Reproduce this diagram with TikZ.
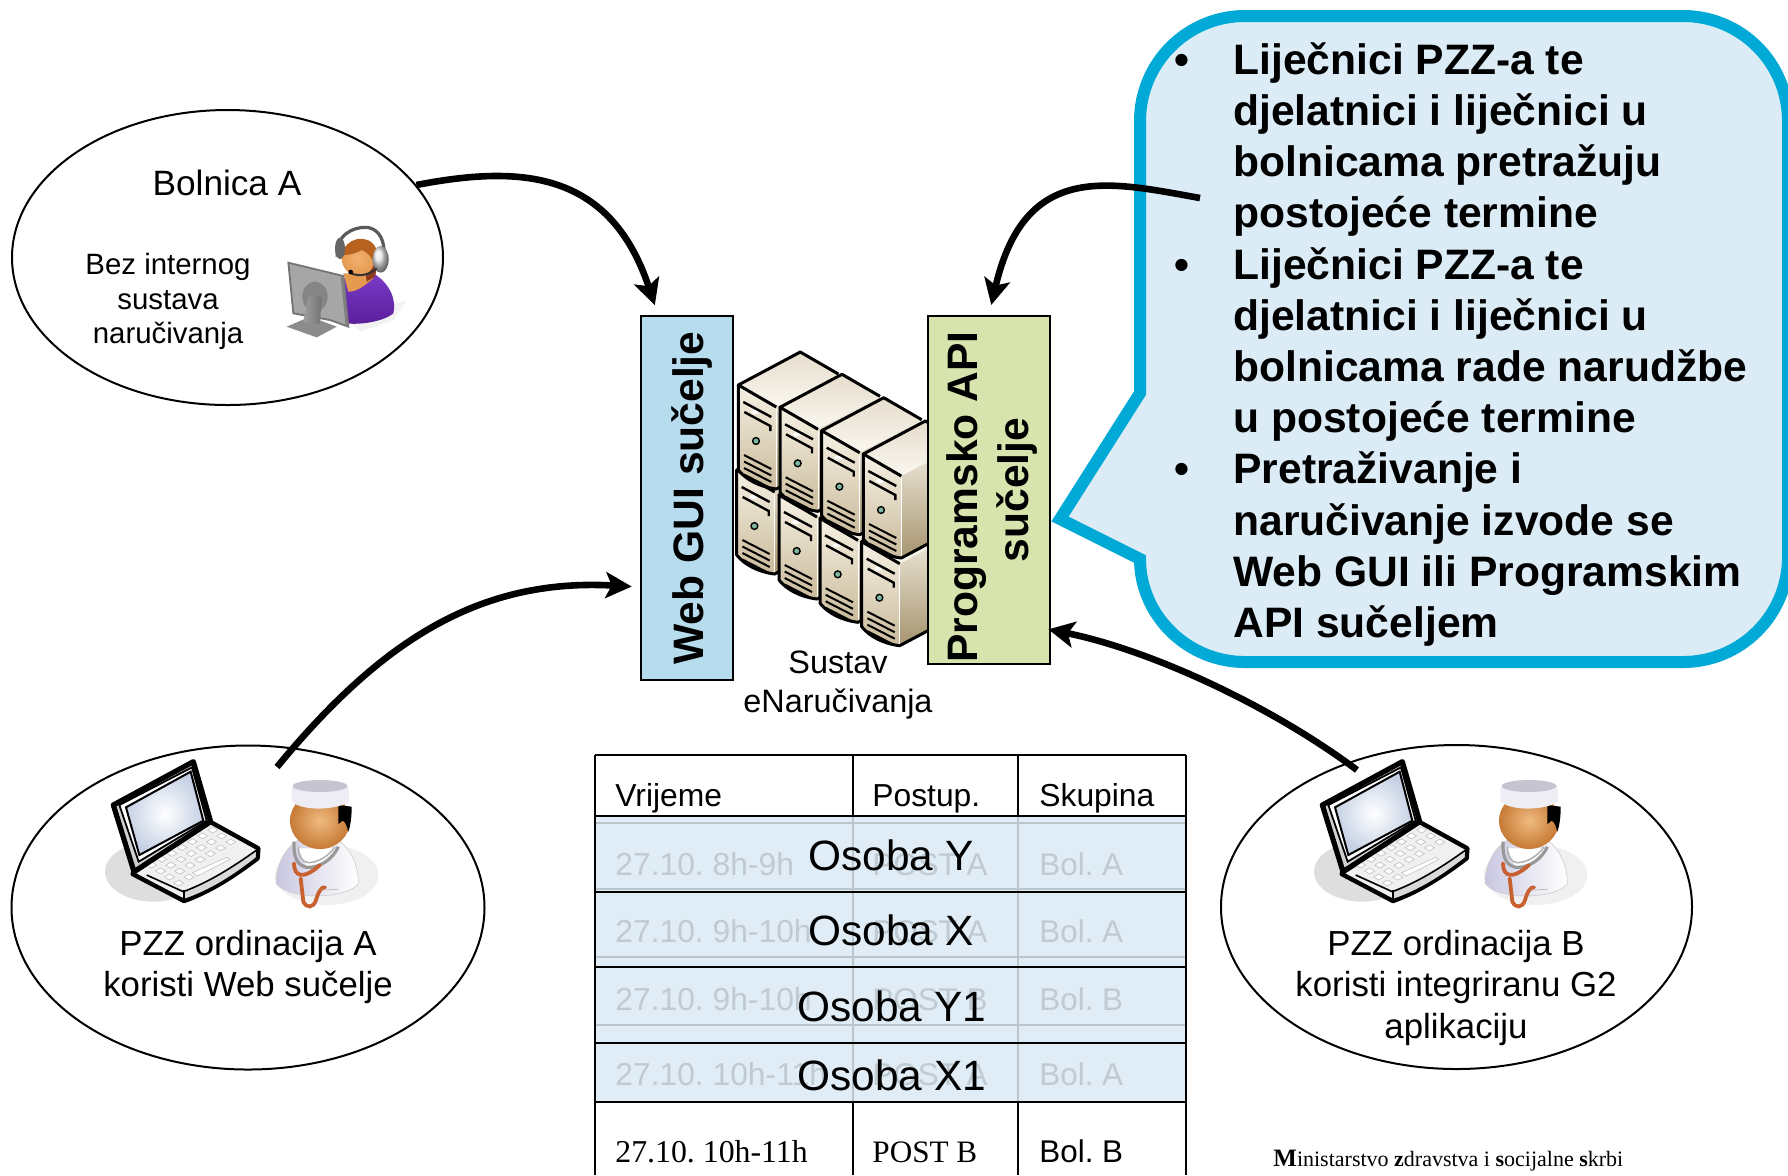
\documentclass[tikz,border=0pt]{standalone}
\usepackage{fontspec}
\setmainfont{Liberation Sans}
\newfontfamily\tnr{Liberation Serif}
\usetikzlibrary{shapes.geometric,arrows.meta}
\definecolor{callfill}{HTML}{DCECF6}
\definecolor{callline}{HTML}{00A9D6}
\definecolor{webfill}{HTML}{B7DCEE}
\definecolor{apifill}{HTML}{D7E4AD}
\definecolor{bandfill}{HTML}{E0EDF6}
\definecolor{ghost}{HTML}{BFCAD1}
\definecolor{ghostline}{HTML}{BAC6CC}
\definecolor{svfronta}{HTML}{F6F1E4}
\definecolor{svfrontb}{HTML}{C9BA9A}
\definecolor{svsidea}{HTML}{F2EDE0}
\definecolor{svsideb}{HTML}{A6946F}
\definecolor{svtopa}{HTML}{FBF8F1}
\definecolor{svtopb}{HTML}{E5DCCB}
\definecolor{svled}{HTML}{7DB8A0}
\definecolor{skina}{HTML}{EFBB80}
\definecolor{skinb}{HTML}{C77A35}
\definecolor{scope}{HTML}{C8602F}
\definecolor{coat}{HTML}{C9C7E0}
\definecolor{hatband}{HTML}{EDEDF3}
\definecolor{hattop}{HTML}{C6C4D0}
\definecolor{screena}{HTML}{C5D0E4}
\definecolor{purplea}{HTML}{7A3BC8}
\definecolor{purpleb}{HTML}{5A1E9A}
\definecolor{hairc}{HTML}{B8621F}
\definecolor{hairr}{HTML}{8E3A1E}
\definecolor{opskin}{HTML}{F2B070}
\definecolor{opskinb}{HTML}{E59A50}
\tikzset{
  blob/.style={ellipse,draw=black,line width=1pt,fill=white,inner sep=0pt},
  conn/.style={line width=3.3pt,-{Stealth[length=13pt,width=13pt,inset=3pt]}},
  txt/.style={inner sep=0pt,anchor=base,align=center},
  txtw/.style={inner sep=0pt,anchor=base west},
  lbla/.style={txt,font=\fontsize{17.6}{17.6}\selectfont},
  lblb/.style={txt,font=\fontsize{14.7}{14.7}\selectfont},
  lblc/.style={txt,font=\fontsize{17.4}{17.4}\selectfont},
  head/.style={txtw,font=\fontsize{15.9}{15.9}\selectfont},
  gdate/.style={txtw,text=ghost,font=\fontsize{15.9}{15.9}\selectfont},
  gcell/.style={txtw,text=ghost,font=\fontsize{15.7}{15.7}\selectfont},
  osoba/.style={txtw,font=\fontsize{21.2}{21.2}\selectfont},
  iface/.style={draw=black,line width=1.3pt,inner sep=0pt,rectangle},
  vtext/.style={inner sep=0pt,rotate=90,align=center,font=\bfseries\fontsize{21.3}{25.6}\selectfont},
  sv/.style={draw=black,line width=1.5pt,line join=round},
  sd/.style={draw=black,line width=1pt},
  lapo/.style={draw=black,line join=round},
}
\newcommand{\serverunit}[2]{%
\begin{scope}[shift={(#1,#2)}]
  \path[top color=svsidea,bottom color=svsideb] (38,22) -- (100,-11) -- (100,71) -- (38,104) -- cycle;
  \path[top color=svtopb,bottom color=svtopa] (0,0) -- (62,-33) -- (100,-11) -- (38,22) -- cycle;
  \path[top color=svfronta,bottom color=svfrontb] (0,0) -- (38,22) -- (38,104) .. controls (22,102) and (8,95) .. (0,85) -- cycle;
  \draw[white,line width=.5pt] (38,24) -- (38,103);
  \draw[sv] (38,22) -- (0,0) -- (62,-33) -- (100,-11);
  \draw[sv] (0,0) -- (0,85) .. controls (8,95) and (22,102) .. (38,104) -- (100,71);
  \fill[white] (16.7,27) ellipse (4 and 2);
  \draw[sd,line width=1.2pt] (5,17) -- (33,32);
  \draw[sd,line width=1.2pt] (6,27) -- (32,41) -- (32,46);
  \draw[sd,fill=svled,line width=.7pt] (17.7,56) circle (3.4);
  \foreach \v in {0,6.5,13,19.5}{\draw[sd] (5.7,70+\v) -- (33,84+\v);}
\end{scope}}
\newcommand{\laptopicon}[2]{%
\begin{scope}[shift={(#1,#2)},x=.16667pt,y=-.16667pt]
  \fill[black!13] (190,365) ellipse (145 and 90);
  \path[lapo,line width=2.2pt,fill=black!6] (130,368) -- (360,215) -- (505,295) -- (503,325) .. controls (430,380) and (360,425) .. (282,453) -- (128,372) -- cycle;
  \path[fill=black!15] (282,420) .. controls (360,395) and (430,350) .. (497,305) -- (497,322) .. controls (430,375) and (360,420) .. (282,446) -- cycle;
  \draw[line width=.8pt] (170,375) -- (280,425) .. controls (360,395) and (430,350) .. (500,300);
  \draw[line width=.6pt] (282,420) -- (282,450);
  \foreach \i in {0,...,6}{\foreach \j in {0,1,2,3}{
    \ifnum\j=3 \ifnum\i>1 \else
      \path[draw=black!25,line width=.3pt,fill=white] ({185+30.5*\i+27*\j-15},{345-17.5*\i+18*\j}) -- ++(15,-9) -- ++(15,9) -- ++(-15,9) -- cycle;
    \fi\else
      \path[draw=black!25,line width=.3pt,fill=white] ({185+30.5*\i+27*\j-15},{345-17.5*\i+18*\j}) -- ++(15,-9) -- ++(15,9) -- ++(-15,9) -- cycle;
    \fi}}
  \path[draw=black!25,line width=.3pt,fill=white] (308,368) -- (410,322) -- (420,328) -- (322,378) -- cycle;
  \path[lapo,line width=2.6pt,fill=black!18] (70,165) -- (310,35) -- (362,215) -- (132,365) -- cycle;
  \path[draw=black,line width=.9pt,fill=white] (88,165) -- (306,52) -- (350,212) -- (146,335) -- cycle;
  \path[draw=black,line width=1pt,shading=radial,inner color=white,outer color=screena] (108,172) -- (302,65) -- (340,212) -- (148,315) -- cycle;
\end{scope}}
\newcommand{\doctoricon}[2]{%
\begin{scope}[shift={(#1,#2)},x=.16667pt,y=-.16667pt]
  \fill[black!6] (710,375) ellipse (155 and 90);
  \path[left color=coat,right color=white,draw=black!20,line width=.3pt] (558,400) .. controls (558,340) and (590,290) .. (625,270) -- (745,270) .. controls (785,300) and (805,350) .. (805,400) .. controls (780,445) and (600,455) .. (558,400) -- cycle;
  \fill[white] (625,295) -- (740,295) -- (690,355) -- (650,350) -- cycle;
  \draw[black!40,line width=1.6pt] (612,275) .. controls (610,320) and (620,345) .. (650,352) .. controls (690,355) and (730,325) .. (745,290);
  \draw[black!30,line width=.8pt] (625,290) .. controls (625,320) and (635,335) .. (655,338) .. controls (685,338) and (720,315) .. (735,290);
  \draw[scope,line width=1.9pt,line cap=round] (612,340) .. controls (612,380) and (640,390) .. (690,345);
  \draw[scope,line width=1.9pt,line cap=round] (632,385) -- (640,455) .. controls (650,475) and (670,475) .. (678,450) .. controls (685,425) and (695,410) .. (705,412);
  \draw[black!25,line width=.4pt] (695,420) -- (745,418);
  \path[shading=radial,inner color=skina,outer color=skinb] (690,212) ellipse (90 and 85);
  \path[fill=black] (745,165) -- (785,170) .. controls (785,200) and (782,225) .. (775,245) .. controls (770,225) and (765,215) .. (758,212) -- (745,222) -- cycle;
  \path[fill=hatband] (605,115) .. controls (620,85) and (760,85) .. (775,110) -- (778,155) .. controls (740,180) and (640,185) .. (605,155) -- cycle;
  \fill[hattop] (690,108) ellipse (82 and 18);
\end{scope}}
\newcommand{\operatoricon}[2]{%
\begin{scope}[shift={(#1,#2)},x=.16667pt,y=-.16667pt]
  \fill[black!5] (1040,660) -- (1220,600) -- (1180,660) -- (1080,695) -- cycle;
  \path[top color=purplea,bottom color=purpleb] (1020,530) .. controls (1090,560) and (1110,520) .. (1120,520) .. controls (1170,550) and (1190,600) .. (1180,640) .. controls (1150,665) and (1080,675) .. (1040,670) -- cycle;
  \fill[opskinb] (1030,520) -- (1100,520) -- (1120,535) .. controls (1090,560) and (1070,575) .. (1045,575) -- cycle;
  \path[fill=hairr] (1095,500) -- (1135,480) -- (1125,530) -- (1100,545) -- cycle;
  \path[shading=radial,inner color=opskin,outer color=opskinb] (1075,475) ellipse (50 and 52);
  \path[fill=hairc] (1028,465) .. controls (1030,415) and (1105,395) .. (1128,445) -- (1122,490) .. controls (1115,470) and (1100,455) .. (1085,450) .. controls (1065,462) and (1045,465) .. (1028,465) -- cycle;
  \draw[black!65,line width=1.6pt] (1012,470) .. controls (1005,405) and (1060,380) .. (1100,382) .. controls (1130,385) and (1150,410) .. (1152,450);
  \fill[black!60] (1020,445) ellipse (15 and 32);
  \shade[ball color=black!10] (1142,478) ellipse (24 and 40);
  \draw[black!80,line width=1pt] (1050,518) .. controls (1080,535) and (1115,520) .. (1130,505);
  \fill[black] (1052,516) circle (7);
  \path[fill=black!45] (860,680) -- (930,650) -- (1010,680) -- (950,712) -- cycle;
  \path[draw=black!55,line width=.9pt,fill=black!35] (865,488) -- (1030,528) -- (1045,680) -- (990,660) -- (880,640) -- cycle;
  \path[fill=black!50] (1030,528) -- (1045,680) -- (1037,680) -- (1022,530) -- cycle;
  \fill[black!48] (945,590) ellipse (38 and 45);
  \path[left color=black!38,right color=black!55] (925,590) -- (965,590) -- (960,672) -- (910,665) -- cycle;
\end{scope}}
\begin{document}
\frenchspacing
\begin{tikzpicture}[x=.5pt,y=-.5pt]
\useasboundingbox (0,0) rectangle (1788,1175);
% ellipses
\node[blob,minimum width=215.5pt,minimum height=147.5pt] (bolnica) at (227.5,257.5) {};
\node[blob,minimum width=236.5pt,minimum height=162pt] (pzza) at (248,907.5) {};
\node[blob,minimum width=235.5pt,minimum height=162pt] (pzzb) at (1456.5,907) {};
\operatoricon{0}{100}
\laptopicon{90}{750}
\doctoricon{90}{750}
\laptopicon{1299}{750}
\doctoricon{1299}{750}
\node[lbla] (tbol) at (227,195) {Bolnica A};
\node[lblb] (tbez1) at (168,274) {Bez internog};
\node[lblb] (tbez2) at (168,309) {sustava};
\node[lblb] (tbez3) at (168,343) {naručivanja};
\node[lblc] (ta1) at (248,955) {PZZ ordinacija A};
\node[lblc] (ta2) at (248,996) {koristi Web sučelje};
\node[lblc] (tb1) at (1456,955) {PZZ ordinacija B};
\node[lblc] (tb2) at (1456,996) {koristi integriranu G2};
\node[lblc] (tb3) at (1456,1038) {aplikaciju};
% servers
\serverunit{736.7}{470}\serverunit{779}{495}\serverunit{820}{518.3}\serverunit{861.7}{541.7}
\serverunit{738.3}{385}\serverunit{780}{407.3}\serverunit{821.7}{430.7}\serverunit{863.3}{454}
\node[lblb,font=\fontsize{16.2}{16.2}\selectfont] (sus1) at (838,673) {Sustav};
\node[lblb,font=\fontsize{16.2}{16.2}\selectfont] (sus2) at (838,712) {eNaručivanja};
% interfaces
\node[iface,fill=webfill,minimum width=46pt,minimum height=182pt] (web) at (687,498) {};
\node[iface,fill=apifill,minimum width=61pt,minimum height=174pt] (api) at (989,490) {};
\node[vtext] (tweb) at (692,498) {Web GUI sučelje};
\node[vtext] (tapi) at (992,490) {Programsko API\hspace{7pt}\mbox{}\\sučelje};
% callout
\begin{scope}
\clip (0,0) rectangle (1788,1175);
\path[draw=callline,line width=6pt,fill=callfill,miter limit=10]
  (1140,393) -- (1140,121) .. controls (1140,63) and (1187,16) .. (1245,16) -- (1683,16)
  .. controls (1741,16) and (1788,63) .. (1788,121) -- (1788,557)
  .. controls (1788,615) and (1741,662) .. (1683,662) -- (1245,662)
  .. controls (1187,662) and (1140,615) .. (1140,559) -- (1060,519) -- cycle;
\end{scope}
\node[inner sep=0pt,anchor=north west,align=left,font=\bfseries\fontsize{21.3}{25.6}\selectfont] (calltext) at (1233,42)
{\llap{•\hspace{22pt}}Liječnici PZZ-a te\\
djelatnici i liječnici u\\
bolnicama pretražuju\\
postojeće termine\\
\llap{•\hspace{22pt}}Liječnici PZZ-a te\\
djelatnici i liječnici u\\
bolnicama rade narudžbe\\
u postojeće termine\\
\llap{•\hspace{22pt}}Pretraživanje i\\
naručivanje izvode se\\
Web GUI ili Programskim\\
API sučeljem};
% connectors
\coordinate (s3) at (277,767);
\coordinate (s4) at (1357,770);
\coordinate (s2) at (1200,198);
\draw[conn,shorten >=5pt] (bolnica.21) .. controls (520,165) and (610,170) .. (web.99);
\draw[conn,shorten >=5pt] (s2) .. controls (1110,182) and (1025,160) .. (api.north);
\draw[conn,shorten >=4pt] (s3) .. controls (380,642) and (478,578) .. (web.242.9);
\draw[conn,shorten >=-1.5pt] (s4) .. controls (1270,705) and (1150,650) .. (api.-66);
% table
\fill[bandfill] (595,816) rectangle (1186,1102);
\foreach \y in {823,889,957,1025}{\draw[ghostline,line width=1pt] (595,\y) -- (1186,\y);}
\foreach \x in {853,1018}{\draw[ghostline,line width=1pt] (\x,816) -- (\x,1102);}
\foreach \x in {853,1018}{
  \draw[black,line width=1pt] (\x,755) -- (\x,816);
  \draw[black,line width=1pt] (\x,1102) -- (\x,1175);}
\foreach \y in {755,816,892,967,1043,1102}{\draw[black,line width=1.2pt] (595,\y) -- (1186,\y);}
\draw[black,line width=1.2pt] (595,755) -- (595,1175);
\draw[black,line width=1.2pt] (1186,755) -- (1186,1175);
\node[head] (h1) at (615,806) {Vrijeme};
\node[head] (h2) at (872,806) {Postup.};
\node[head] (h3) at (1039,806) {Skupina};
\node[gdate] (d1) at (615,875) {27.10. 8h-9h};
\node[gdate] (d2) at (615,942) {27.10. 9h-10h};
\node[gdate] (d3) at (615,1010) {27.10. 9h-10h};
\node[gdate] (d4) at (615,1085) {27.10. 10h-11h};
\node[gcell] (p1) at (872,875) {POST A};
\node[gcell] (p2) at (872,942) {POST A};
\node[gcell] (p3) at (872,1010) {POST B};
\node[gcell] (p4) at (872,1085) {POST A};
\node[gcell] (b1) at (1039,875) {Bol. A};
\node[gcell] (b2) at (1039,942) {Bol. A};
\node[gcell] (b3) at (1039,1010) {Bol. B};
\node[gcell] (b4) at (1039,1085) {Bol. A};
\node[osoba] (o1) at (808,870) {Osoba Y};
\node[osoba] (o2) at (808,945) {Osoba X};
\node[osoba] (o3) at (797,1021) {Osoba Y1};
\node[osoba] (o4) at (797,1090) {Osoba X1};
\node[txtw,font=\tnr\fontsize{15.9}{15.9}\selectfont] (l1) at (615,1162) {27.10. 10h-11h};
\node[txtw,font=\tnr\fontsize{15.6}{15.6}\selectfont] (l2) at (872,1162) {POST B};
\node[gcell,text=black] (l3) at (1039,1162) {Bol. B};
% footer
\node[txtw,font=\tnr\fontsize{11}{11}\selectfont] (foot) at (1273,1166) {\textbf{\fontsize{12.5}{12.5}\selectfont M}inistarstvo \textbf{z}dravstva i \textbf{s}ocijalne \textbf{s}krbi};
\end{tikzpicture}
\end{document}
